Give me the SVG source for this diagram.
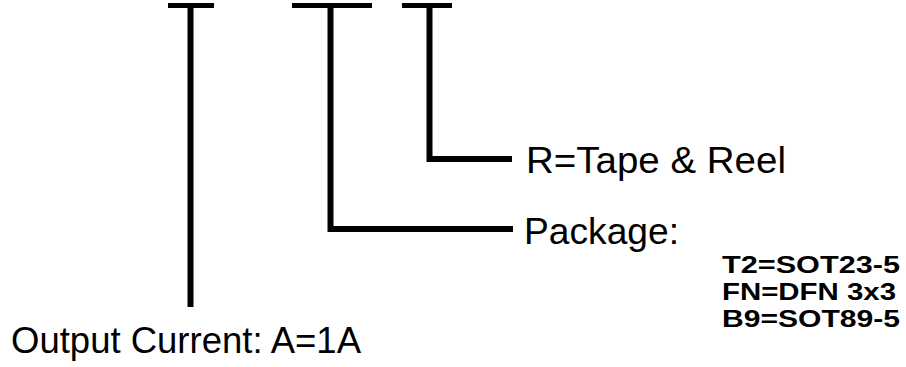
<svg xmlns="http://www.w3.org/2000/svg" width="906" height="367" viewBox="0 0 906 367">
<style>
.ln{fill:none;stroke:#000;stroke-width:6;stroke-linejoin:miter;stroke-linecap:butt}
.tb{fill:none;stroke:#000;stroke-width:5}
.big{font-family:"Liberation Sans",Arial,sans-serif;font-size:37px;fill:#000}
.sm{font-family:"Liberation Sans",Arial,sans-serif;font-size:23px;font-weight:bold;fill:#000}
</style>
<rect width="906" height="367" fill="#fff"/>
<g id="connectors">
<line class="tb" x1="168" y1="5.5" x2="214" y2="5.5"/>
<line class="ln" x1="190.5" y1="5" x2="190.5" y2="307"/>
<line class="tb" x1="292" y1="5.5" x2="372" y2="5.5"/>
<polyline class="ln" points="330.5,5 330.5,229 513,229"/>
<line class="tb" x1="402" y1="5.5" x2="452" y2="5.5"/>
<polyline class="ln" points="429.5,5 429.5,159 512,159"/>
</g>
<g id="tape-reel">
<text class="big" x="526" y="173" textLength="260" lengthAdjust="spacingAndGlyphs">R=Tape &amp; Reel</text>
</g>
<g id="package">
<text class="big" x="524" y="244" textLength="155" lengthAdjust="spacingAndGlyphs">Package:</text>
<text class="sm" x="722" y="273" textLength="178" lengthAdjust="spacingAndGlyphs">T2=SOT23-5</text>
<text class="sm" x="722" y="300" textLength="174" lengthAdjust="spacingAndGlyphs">FN=DFN 3x3</text>
<text class="sm" x="722" y="327" textLength="178" lengthAdjust="spacingAndGlyphs">B9=SOT89-5</text>
</g>
<g id="output-current">
<text class="big" x="11" y="353" textLength="350" lengthAdjust="spacingAndGlyphs">Output Current: A=1A</text>
</g>
</svg>
